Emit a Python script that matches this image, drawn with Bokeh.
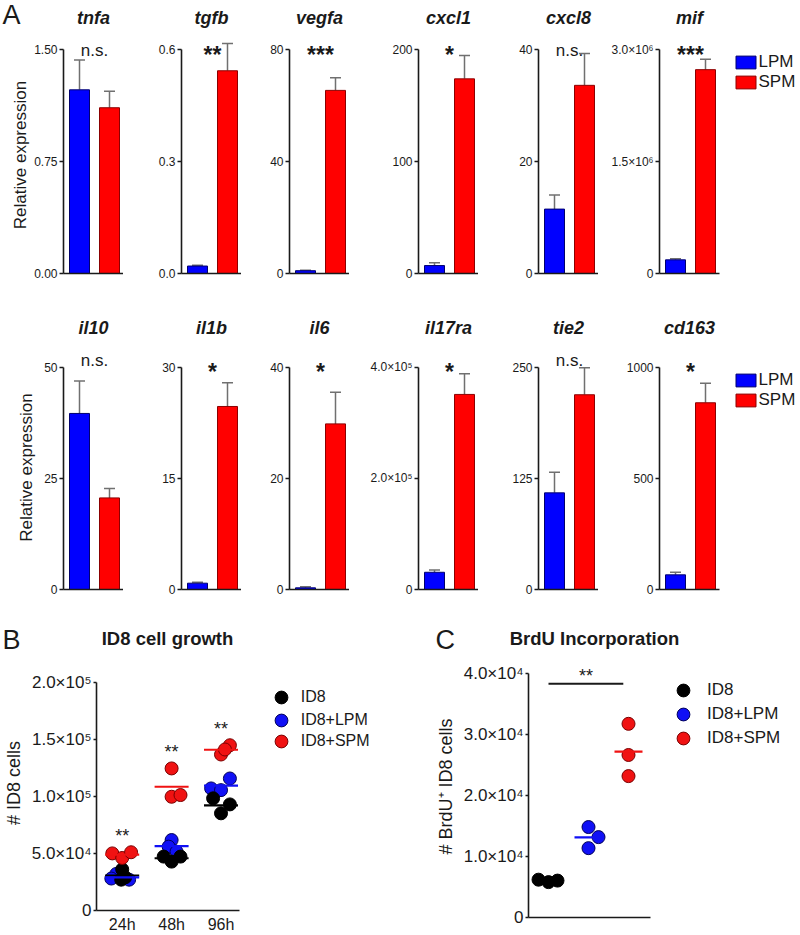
import numpy as np
from bokeh.plotting import figure
from bokeh.models import (ColumnDataSource, Range1d, FixedTicker, Label, Legend,
                          LegendItem, Whisker, TeeHead, CustomJSTickFormatter)
from bokeh.layouts import row, column
from bokeh.embed import file_html
from bokeh.resources import INLINE

# ---------------- data ----------------
groups_A = ["LPM", "SPM"]

genes_top = ["tnfa", "tgfb", "vegfa", "cxcl1", "cxcl8", "mif"]
lpm_top = [1.23, 0.020, 1.0, 7.1, 11.5, 1.83e5]
lpm_top_upper = [1.43, 0.022, 1.2, 9.5, 14.0, 1.97e5]
spm_top = [1.11, 0.543, 65.4, 173.8, 33.6, 2.73e6]
spm_top_upper = [1.22, 0.616, 69.9, 194.6, 39.3, 2.87e6]
ymax_top = [1.5, 0.6, 80, 200, 40, 3.0e6]
yticklabels_top = [["0.00", "0.75", "1.50"], ["0.0", "0.3", "0.6"], ["0", "40", "80"],
                   ["0", "100", "200"], ["0", "20", "40"], ["0", "1.5×10⁶", "3.0×10⁶"]]
sig_top = ["n.s.", "**", "***", "*", "n.s.", "***"]

genes_bot = ["il10", "il1b", "il6", "il17ra", "tie2", "cd163"]
lpm_bot = [39.6, 0.85, 0.3, 3.1e4, 108.7, 66]
lpm_bot_upper = [46.9, 0.99, 0.5, 3.5e4, 131.9, 78]
spm_bot = [20.6, 24.7, 29.8, 3.51e5, 219, 840]
spm_bot_upper = [22.7, 27.9, 35.5, 3.88e5, 249.3, 928]
ymax_bot = [50, 30, 40, 4.0e5, 250, 1000]
yticklabels_bot = [["0", "25", "50"], ["0", "15", "30"], ["0", "20", "40"],
                   ["0", "2.0×10⁵", "4.0×10⁵"], ["0", "125", "250"], ["0", "500", "1000"]]
sig_bot = ["n.s.", "*", "*", "*", "n.s.", "*"]

times = ["24h", "48h", "96h"]
growth_series = ["ID8", "ID8+LPM", "ID8+SPM"]
growth_id8 = [[3.6e4, 2.7e4, 2.9e4], [4.72e4, 4.28e4, 4.72e4], [9.82e4, 9.29e4, 8.51e4]]
growth_lpm = [[3.2e4, 2.8e4, 2.7e4], [6.17e4, 5.59e4, 5.15e4], [1.156e5, 1.069e5, 1.054e5]]
growth_spm = [[5.0e4, 4.6e4, 5.1e4], [1.244e5, 0.996e5, 1.011e5], [1.447e5, 1.366e5, 1.41e5]]
growth_sig = ["**", "**", "**"]
growth_yticks = [0, 5e4, 1e5, 1.5e5, 2e5]
growth_yticklabels = ["0", "5.0×10⁴", "1.0×10⁵", "1.5×10⁵", "2.0×10⁵"]

brdu_groups = ["ID8", "ID8+LPM", "ID8+SPM"]
brdu_id8 = [6.2e3, 5.8e3, 6.05e3]
brdu_lpm = [1.483e4, 1.318e4, 1.137e4]
brdu_spm = [3.175e4, 2.664e4, 2.318e4]
brdu_yticks = [0, 1e4, 2e4, 3e4, 4e4]
brdu_yticklabels = ["0", "1.0×10⁴", "2.0×10⁴", "3.0×10⁴", "4.0×10⁴"]
brdu_sig = "**"
brdu_sig_level = 3.83e4

# ---------------- layout / style constants ----------------
FONT = "Liberation Sans"
INK = "#1a1a1a"
BLUE, BLUE_EDGE = "#0000ff", "#00006e"
RED, RED_EDGE = "#ff0000", "#8c0000"
PT_BLUE, PT_RED, PT_BLACK = "#1010f5", "#f01212", "#000000"
ERR = "#707070"
PAGE_W = 800
SHIFT = 0.3   # em correction for rendered alphabetic baseline

AX_X = [63, 181, 289, 418, 538, 659]          # page x of each bar panel's y axis
CAT_PX, FRAME_W, FIRST_OFF, BAR_W = 30, 60, 16, 20

ROWS = [
    dict(head_top=0, head_h=36, fig_h=264, frame_h=237, axis_px=224, title_base=23,
         ns_y=218, star_y=212, legend_top=53.4, ylab_standoff=1),
    dict(head_top=300, head_h=45, fig_h=265, frame_h=244, axis_px=222.3, title_base=333,
         ns_y=224, star_y=211, legend_top=371.1, ylab_standoff=5),
]

growth_jitter = [[[0, -1, 3], [-8, 0, 9], [-8, 9, 0]],
                 [[-6, -11, 7], [0, -3, 5], [9, -10, 0]],
                 [[-10, 0, 9], [0, 0, 9], [9, 0, 4]]]
brdu_jitter = [[-10, 0, 9], [0, 10, 0], [0, 0, 0]]


def new_fig(**kw):
    return figure(output_backend="svg", toolbar_location=None, tools="", title=None, **kw)


def style_common(p):
    p.outline_line_color = None
    p.xgrid.visible = False
    p.ygrid.visible = False
    for ax in (p.xaxis[0], p.yaxis[0]):
        ax.axis_line_color = INK
        ax.axis_line_width = 1.6
        ax.major_tick_line_color = INK
        ax.major_tick_line_width = 1.4
        ax.major_tick_in = 0
        ax.minor_tick_out = 0
        ax.minor_tick_in = 0
        ax.major_label_text_font = FONT
        ax.major_label_text_color = INK
        ax.axis_label_text_font = FONT
        ax.axis_label_text_font_style = "normal"
        ax.axis_label_text_color = INK


def bare_xaxis(p):
    p.xaxis.ticker = FixedTicker(ticks=[])
    p.xaxis.major_tick_out = 0
    p.xaxis.major_label_standoff = 0
    p.xaxis.major_label_text_font_size = "0px"


def tick_fmt(labels):
    return CustomJSTickFormatter(args=dict(labels=labels), code="return labels[index];")


def header(top, h, texts, width=PAGE_W, left=0):
    p = new_fig(width=width, height=h, x_range=Range1d(left, left + width),
                y_range=Range1d(h, 0), x_axis_type=None, y_axis_type=None, min_border=0)
    p.outline_line_color = None
    for (x, yb, txt, align, style, size) in texts:
        p.add_layout(Label(x=x, y=yb - top - SHIFT * size, text=txt, text_align=align,
                           text_baseline="alphabetic", text_font=FONT, text_font_style=style,
                           text_font_size=f"{size}px", text_color=INK))
    return p


def bar_panel(k, lpm, lpm_up, spm, spm_up, ymax, ylabels, sig, cfg, fig_left):
    ax_x = AX_X[k]
    last = k == len(AX_X) - 1
    fw = (PAGE_W - ax_x) if last else FRAME_W
    bl = ax_x - fig_left
    fh = cfg["frame_h"]
    x0 = -FIRST_OFF / CAT_PX
    p = new_fig(width=bl + fw, height=cfg["fig_h"],
                x_range=Range1d(x0, x0 + fw / CAT_PX),
                y_range=Range1d(0, ymax * fh / cfg["axis_px"]),
                min_border_left=bl, min_border_right=0, min_border_top=0,
                min_border_bottom=cfg["fig_h"] - fh)
    style_common(p)
    bw = BAR_W / CAT_PX
    rb = p.vbar(x=[0], top=[lpm], width=bw, fill_color=BLUE, line_color=BLUE_EDGE, line_width=1)
    rr = p.vbar(x=[1], top=[spm], width=bw, fill_color=RED, line_color=RED_EDGE, line_width=1)
    src = ColumnDataSource(dict(x=[0, 1], lower=[lpm, spm], upper=[lpm_up, spm_up]))
    p.add_layout(Whisker(source=src, base="x", lower="lower", upper="upper", dimension="height",
                         line_color=ERR, line_width=1.5, lower_head=None,
                         upper_head=TeeHead(size=11, line_color=ERR, line_width=1.5)))
    bare_xaxis(p)
    p.xaxis.bounds = (x0, x0 + FRAME_W / CAT_PX)
    p.yaxis.ticker = FixedTicker(ticks=[0, ymax / 2, ymax])
    p.yaxis.formatter = tick_fmt(ylabels)
    p.yaxis.bounds = (0, ymax)
    p.yaxis.major_tick_out = 4
    p.yaxis.major_label_standoff = 2
    p.yaxis.major_label_text_font_size = "12px"
    if k == 0:
        p.yaxis.axis_label = "Relative expression"
        p.yaxis.axis_label_text_font_size = "17px"
        p.yaxis.axis_label_standoff = cfg["ylab_standoff"]
    if sig == "n.s.":
        p.add_layout(Label(x=0.5, y=cfg["ns_y"] + SHIFT * 17, y_units="screen", text=sig,
                           text_align="center", text_baseline="alphabetic", text_font=FONT,
                           text_font_size="17px", text_color=INK))
    else:
        p.add_layout(Label(x=0.5, y=cfg["star_y"] + SHIFT * 23, y_units="screen", text=sig,
                           text_align="center", text_baseline="alphabetic", text_font=FONT,
                           text_font_style="bold", text_font_size="23px", text_color=INK))
    if last:
        frame_bottom = cfg["head_top"] + cfg["head_h"] + fh
        leg_h = 2 * 19.5
        leg = Legend(items=[LegendItem(label=groups_A[0], renderers=[rb]),
                            LegendItem(label=groups_A[1], renderers=[rr])],
                     location=(732.5 - ax_x, frame_bottom - (cfg["legend_top"] + leg_h)),
                     padding=0, margin=0, spacing=0, glyph_width=25, glyph_height=16,
                     label_height=19, label_standoff=1, label_text_font=FONT,
                     label_text_font_size="17px", label_text_color=INK,
                     border_line_color=None, background_fill_alpha=0)
        p.add_layout(leg)
    return p, ax_x + fw


def bar_row(r, genes, lpm, lpm_up, spm, spm_up, ymax, ylabels, sig, extra_texts):
    cfg = ROWS[r]
    texts = list(extra_texts)
    for k, g in enumerate(genes):
        texts.append((AX_X[k] + FRAME_W / 2, cfg["title_base"], g, "center", "bold italic", 18))
    head = header(cfg["head_top"], cfg["head_h"], texts)
    figs = []
    left = 0
    for k in range(len(genes)):
        p, left = bar_panel(k, lpm[k], lpm_up[k], spm[k], spm_up[k], ymax[k], ylabels[k],
                            sig[k], cfg, left)
        figs.append(p)
    return column(head, row(*figs))


block1 = bar_row(0, genes_top, lpm_top, lpm_top_upper, spm_top, spm_top_upper, ymax_top,
                 yticklabels_top, sig_top, [(2, 23, "A", "left", "normal", 27)])
block2 = bar_row(1, genes_bot, lpm_bot, lpm_bot_upper, spm_bot, spm_bot_upper, ymax_bot,
                 yticklabels_bot, sig_bot, [])

# ---------------- row 3 ----------------
R3_TOP = 610
B_FR = 430
B_HEAD, C_HEAD = 45, 45
headB = header(R3_TOP, B_HEAD, [
    (2, 648, "B", "left", "normal", 27),
    (167, 644, "ID8 cell growth", "center", "bold", 18.5),
], width=B_FR, left=0)
headC = header(R3_TOP, C_HEAD, [
    (435, 648, "C", "left", "normal", 27),
    (594, 644, "BrdU Incorporation", "center", "bold", 18.5),
], width=PAGE_W - B_FR, left=B_FR)
FIG3_TOP = R3_TOP + B_HEAD
FIG3_H = 935 - FIG3_TOP

colors = [(PT_BLACK, "#000000"), (PT_BLUE, "#00005a"), (PT_RED, "#7a0000")]


def point_legend(p, renderer, label, cx, cy, frame_left, frame_bottom, standoff, size):
    cy = cy + 3
    p.add_layout(Legend(items=[LegendItem(label=label, renderers=[renderer])],
                        location=(cx - 16 - frame_left, frame_bottom - (cy + 16)),
                        padding=0, margin=0, spacing=0, glyph_width=32, glyph_height=32,
                        label_height=20, label_standoff=standoff, label_text_font=FONT,
                        label_text_font_size=size, label_text_color=INK,
                        border_line_color=None, background_fill_alpha=0))


# ---------------- panel B ----------------
B_FL, B_FB = 92, 911
B_PX = 50
B_AXIS_PX = B_FB - 681.7
B_FH = B_FB - FIG3_TOP
bx0 = 1 - (118 - B_FL) / B_PX
pB = new_fig(width=B_FR, height=FIG3_H,
             x_range=Range1d(bx0, bx0 + (B_FR - B_FL) / B_PX),
             y_range=Range1d(0, growth_yticks[-1] * B_FH / B_AXIS_PX),
             min_border_left=B_FL, min_border_right=0, min_border_top=0,
             min_border_bottom=FIG3_H - B_FH)
style_common(pB)
unit_B = growth_yticks[-1] / B_AXIS_PX
series = [growth_id8, growth_lpm, growth_spm]
rends = {}
for si in (1, 0, 2):
    xs, ys = [], []
    for g in range(3):
        for v, j in zip(series[si][g], growth_jitter[si][g]):
            xs.append(g + 1 + j / B_PX)
            ys.append(v)
    rends[si] = pB.scatter(xs, ys, marker="circle", size=13, fill_color=colors[si][0],
                           line_color=colors[si][1], line_width=1)
for si in (0, 1, 2):
    pB.scatter([1, 2, 3], [float(np.mean(v)) for v in series[si]], marker="dash", size=34,
               line_color=colors[si][0], line_width=2.2)
for g in range(3):
    top = max(max(s[g]) for s in series)
    pB.add_layout(Label(x=g + 1, y=top + (11 + SHIFT * 18) * unit_B, text=growth_sig[g],
                        text_align="center", text_baseline="alphabetic", text_font=FONT,
                        text_font_size="18px", text_color=INK))
pB.xaxis.ticker = FixedTicker(ticks=[1, 2, 3])
pB.xaxis.formatter = tick_fmt(times)
pB.xaxis.bounds = (bx0, bx0 + (237 - B_FL) / B_PX)
pB.xaxis.major_tick_out = 0
pB.xaxis.major_label_standoff = 5
pB.xaxis.major_label_text_font_size = "16px"
pB.yaxis.ticker = FixedTicker(ticks=growth_yticks)
pB.yaxis.formatter = tick_fmt(growth_yticklabels)
pB.yaxis.bounds = (0, growth_yticks[-1])
pB.yaxis.major_tick_out = 3
pB.yaxis.major_label_standoff = 2
pB.yaxis.major_label_text_font_size = "17px"
pB.yaxis.axis_label = "# ID8 cells"
pB.yaxis.axis_label_text_font_size = "18px"
pB.yaxis.axis_label_standoff = 5
for i, cy in enumerate([695, 718.3, 739.3]):
    point_legend(pB, rends[i], growth_series[i], 276.7, cy, B_FL, B_FB, 4, "16px")

# ---------------- panel C ----------------
C_FL, C_FB = 528, 917
C_PX = 40
C_FIG_TOP = R3_TOP + C_HEAD
C_FIG_H = 935 - C_FIG_TOP
C_AXIS_PX = C_FB - 673
C_FH = C_FB - C_FIG_TOP
cx0 = 1 - (548 - C_FL) / C_PX
pC = new_fig(width=PAGE_W - B_FR, height=C_FIG_H,
             x_range=Range1d(cx0, cx0 + (PAGE_W - C_FL) / C_PX),
             y_range=Range1d(0, brdu_yticks[-1] * C_FH / C_AXIS_PX),
             min_border_left=C_FL - B_FR, min_border_right=0, min_border_top=0,
             min_border_bottom=C_FIG_H - C_FH)
style_common(pC)
unit_C = brdu_yticks[-1] / C_AXIS_PX
bseries = [brdu_id8, brdu_lpm, brdu_spm]
crends = {}
for si in (0, 1, 2):
    xs = [si + 1 + j / C_PX for j in brdu_jitter[si]]
    crends[si] = pC.scatter(xs, bseries[si], marker="circle", size=13, fill_color=colors[si][0],
                            line_color=colors[si][1], line_width=1)
for si in (0, 1, 2):
    pC.scatter([si + 1], [float(np.mean(bseries[si]))], marker="dash", size=28,
               line_color=colors[si][0], line_width=2.2)
pC.segment(x0=[1], y0=[brdu_sig_level], x1=[2.87], y1=[brdu_sig_level], line_color=INK,
           line_width=2)
pC.add_layout(Label(x=(1 + 2.87) / 2, y=brdu_sig_level + (2 + SHIFT * 18) * unit_C,
                    text=brdu_sig, text_align="center", text_baseline="alphabetic",
                    text_font=FONT, text_font_size="18px", text_color=INK))
bare_xaxis(pC)
pC.xaxis.bounds = (cx0, cx0 + (650 - C_FL) / C_PX)
pC.yaxis.ticker = FixedTicker(ticks=brdu_yticks)
pC.yaxis.formatter = tick_fmt(brdu_yticklabels)
pC.yaxis.bounds = (0, brdu_yticks[-1])
pC.yaxis.major_tick_out = 3
pC.yaxis.major_label_standoff = 2
pC.yaxis.major_label_text_font_size = "17px"
pC.yaxis.axis_label = "# BrdU⁺ ID8 cells"
pC.yaxis.axis_label_text_font_size = "18px"
pC.yaxis.axis_label_standoff = 5
for i, cy in enumerate([686.7, 711, 735]):
    point_legend(pC, crends[i], brdu_groups[i], 683, cy, C_FL, C_FB, 8, "17px")

# headers and plots are wrapped in their own rows so their frames are laid out independently
layout = column(block1, block2,
                row(column(row(headB), row(pB)), column(row(headC), row(pC))))
open("out.html", "w").write(file_html(layout, INLINE, title="Macrophage expression and ID8 growth"))
